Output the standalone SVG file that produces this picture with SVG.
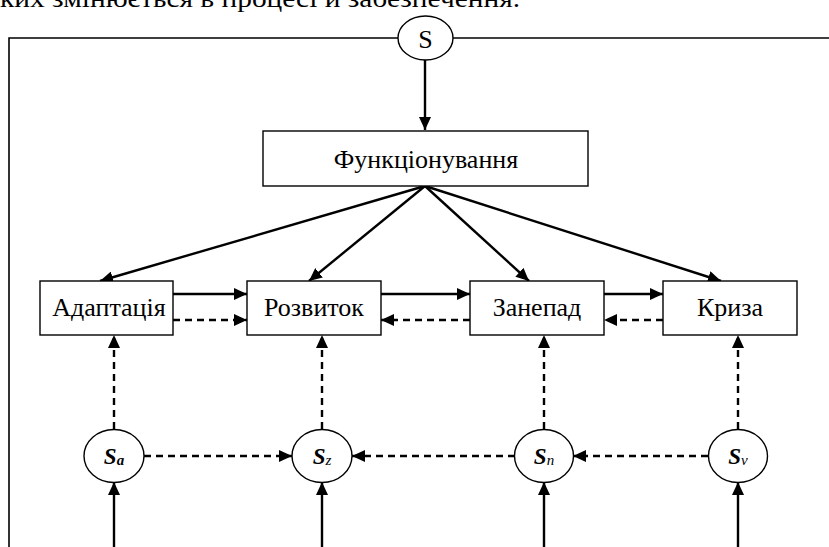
<svg xmlns="http://www.w3.org/2000/svg" width="829" height="547" viewBox="0 0 829 547">
<defs>
<style>
text{font-family:"Liberation Serif","Times New Roman",Tinos,"DejaVu Serif",serif;fill:#000}
.box{fill:#fff;stroke:#000;stroke-width:1.4}
.circ{fill:#fff;stroke:#000;stroke-width:1.4}
.lbl{font-size:26px;text-anchor:middle}
.s{font-size:23px;font-weight:bold;font-style:italic;text-anchor:middle}
.sub{font-size:15px}
.solid{stroke:#000;stroke-width:2.4;fill:none}
.dash{stroke:#000;stroke-width:2.4;fill:none;stroke-dasharray:7,5}
.frame{stroke:#000;stroke-width:1.6;fill:none}
</style>
<marker id="ah" markerUnits="userSpaceOnUse" markerWidth="14" markerHeight="12" refX="13" refY="6" orient="auto">
<path d="M0,0 L13,6 L0,12 Z" fill="#000"/>
</marker>
</defs>
<rect width="829" height="547" fill="#fff"/>
<text x="0" y="7" font-size="26" textLength="520" lengthAdjust="spacingAndGlyphs">ких змінюється в процесі й забезпечення.</text>

<g id="connectors">
<path class="frame" d="M398,38 H9 V547"/>
<path class="frame" d="M453,38 H829"/>
<line class="solid" x1="425" y1="60" x2="425" y2="130" marker-end="url(#ah)"/>
<line class="solid" x1="425" y1="186" x2="100" y2="281" marker-end="url(#ah)"/>
<line class="solid" x1="425" y1="186" x2="309" y2="281" marker-end="url(#ah)"/>
<line class="solid" x1="425" y1="186" x2="529" y2="281" marker-end="url(#ah)"/>
<line class="solid" x1="425" y1="186" x2="721" y2="281" marker-end="url(#ah)"/>
<line class="solid" x1="173" y1="294" x2="247" y2="294" marker-end="url(#ah)"/>
<line class="solid" x1="381" y1="294" x2="470" y2="294" marker-end="url(#ah)"/>
<line class="solid" x1="604" y1="294" x2="663" y2="294" marker-end="url(#ah)"/>
<line class="dash" x1="173" y1="320" x2="247" y2="320" marker-end="url(#ah)"/>
<line class="dash" x1="470" y1="320" x2="381" y2="320" marker-end="url(#ah)"/>
<line class="dash" x1="663" y1="320" x2="604" y2="320" marker-end="url(#ah)"/>
<line class="dash" x1="114" y1="429" x2="114" y2="335" marker-end="url(#ah)"/>
<line class="dash" x1="322" y1="429" x2="322" y2="335" marker-end="url(#ah)"/>
<line class="dash" x1="544" y1="429" x2="544" y2="335" marker-end="url(#ah)"/>
<line class="dash" x1="738" y1="429" x2="738" y2="335" marker-end="url(#ah)"/>
<line class="dash" x1="144" y1="456" x2="292" y2="456" marker-end="url(#ah)"/>
<line class="dash" x1="515" y1="456" x2="352" y2="456" marker-end="url(#ah)"/>
<line class="dash" x1="708" y1="456" x2="573" y2="456" marker-end="url(#ah)"/>
<line class="solid" x1="114" y1="547" x2="114" y2="482" marker-end="url(#ah)"/>
<line class="solid" x1="322" y1="547" x2="322" y2="482" marker-end="url(#ah)"/>
<line class="solid" x1="544" y1="547" x2="544" y2="482" marker-end="url(#ah)"/>
<line class="solid" x1="738" y1="547" x2="738" y2="482" marker-end="url(#ah)"/>
</g>

<g id="S">
<ellipse class="circ" cx="425.5" cy="38" rx="27.5" ry="22"/>
<text class="lbl" x="425.5" y="48">S</text>
</g>
<g id="func">
<rect class="box" x="263" y="131" width="325" height="55"/>
<text class="lbl" x="426" y="168">Функціонування</text>
</g>
<g id="adapt">
<rect class="box" x="40" y="281" width="133" height="54"/>
<text class="lbl" x="109" y="316">Адаптація</text>
</g>
<g id="rozv">
<rect class="box" x="247" y="281" width="134" height="54"/>
<text class="lbl" x="314" y="316">Розвиток</text>
</g>
<g id="zanepad">
<rect class="box" x="470" y="281" width="134" height="54"/>
<text class="lbl" x="537" y="316">Занепад</text>
</g>
<g id="kryza">
<rect class="box" x="663" y="281" width="134" height="54"/>
<text class="lbl" x="730" y="316">Криза</text>
</g>
<g id="Sa">
<ellipse class="circ" cx="114" cy="456" rx="30" ry="26.5"/>
<text class="s" x="114" y="464">S<tspan class="sub" dy="1">a</tspan></text>
</g>
<g id="Sz">
<ellipse class="circ" cx="322" cy="456" rx="30" ry="26.5"/>
<text class="s" x="322" y="464">S<tspan class="sub" dy="1" font-weight="normal">z</tspan></text>
</g>
<g id="Sn">
<ellipse class="circ" cx="544" cy="456" rx="29.5" ry="26.5"/>
<text class="s" x="544" y="464">S<tspan class="sub" dy="1" font-weight="normal">n</tspan></text>
</g>
<g id="Sv">
<ellipse class="circ" cx="738" cy="456" rx="29.5" ry="26.5"/>
<text class="s" x="738" y="464">S<tspan class="sub" dy="1" font-weight="normal">v</tspan></text>
</g>
</svg>
